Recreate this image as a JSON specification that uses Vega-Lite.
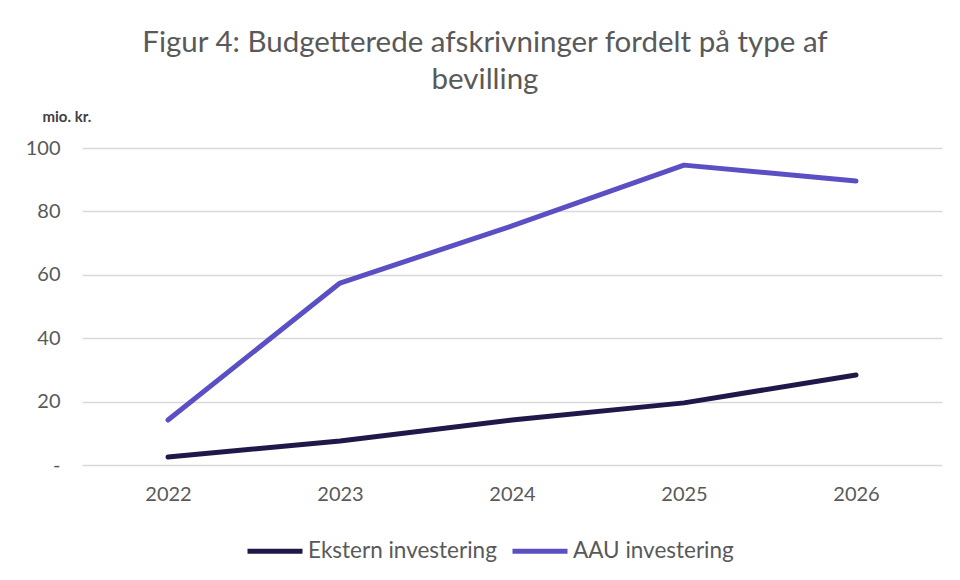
{
  "$schema": "https://vega.github.io/schema/vega-lite/v6.json",
  "width": 860,
  "height": 317,
  "autosize": {"type": "none"},
  "padding": {"left": 82, "top": 148, "right": 18, "bottom": 115},
  "background": "white",
  "config": {
    "font": "Lato",
    "view": {"stroke": null}
  },
  "title": {
    "text": ["Figur 4: Budgetterede afskrivninger fordelt på type af", "bevilling"],
    "fontSize": 29.5,
    "fontWeight": "normal",
    "color": "#595959",
    "font": "Lato",
    "anchor": "middle",
    "dx": -27,
    "offset": 14,
    "lineHeight": 37
  },
  "data": {
    "values": [
      {"year": "2022", "serie": "Ekstern investering", "value": 2.5},
      {"year": "2023", "serie": "Ekstern investering", "value": 7.6},
      {"year": "2024", "serie": "Ekstern investering", "value": 14.2},
      {"year": "2025", "serie": "Ekstern investering", "value": 19.6},
      {"year": "2026", "serie": "Ekstern investering", "value": 28.4},
      {"year": "2022", "serie": "AAU investering", "value": 14.2},
      {"year": "2023", "serie": "AAU investering", "value": 57.4},
      {"year": "2024", "serie": "AAU investering", "value": 75.4},
      {"year": "2025", "serie": "AAU investering", "value": 94.6},
      {"year": "2026", "serie": "AAU investering", "value": 89.6}
    ]
  },
  "mark": {"type": "line", "strokeWidth": 5, "strokeCap": "round", "strokeJoin": "round"},
  "encoding": {
    "x": {
      "field": "year",
      "type": "ordinal",
      "scale": {"type": "point", "padding": 0.5},
      "axis": {
        "title": null,
        "labelAngle": 0,
        "domain": false,
        "ticks": false,
        "labelFontSize": 20,
        "labelColor": "#595959",
        "labelPadding": 19,
        "grid": false
      }
    },
    "y": {
      "field": "value",
      "type": "quantitative",
      "scale": {"domain": [0, 100], "nice": false},
      "axis": {
        "values": [0, 20, 40, 60, 80, 100],
        "labelExpr": "datum.value == 0 ? '-' : datum.label",
        "domain": false,
        "ticks": false,
        "labelFontSize": 20,
        "labelColor": "#595959",
        "labelPadding": 22,
        "gridColor": "#d9d9d9",
        "gridWidth": 1.5,
        "title": "mio. kr.",
        "titleAngle": 0,
        "titleAlign": "left",
        "titleBaseline": "alphabetic",
        "titleX": -40,
        "titleY": -27,
        "titleFontSize": 15,
        "titleFontWeight": "bold",
        "titleColor": "#404040"
      }
    },
    "color": {
      "field": "serie",
      "type": "nominal",
      "sort": ["Ekstern investering", "AAU investering"],
      "scale": {"domain": ["Ekstern investering", "AAU investering"], "range": ["#21184a", "#5b50c3"]},
      "legend": {
        "title": null,
        "orient": "none",
        "direction": "horizontal",
        "legendX": 163,
        "legendY": 373,
        "symbolType": "M-1,0H1",
        "symbolSize": 3025,
        "symbolStrokeWidth": 5,
        "labelFontSize": 22.5,
        "labelLimit": 400,
        "labelColor": "#595959",
        "labelOffset": 3,
        "columnPadding": 5,
        "symbolOffset": 0
      }
    }
  }
}
